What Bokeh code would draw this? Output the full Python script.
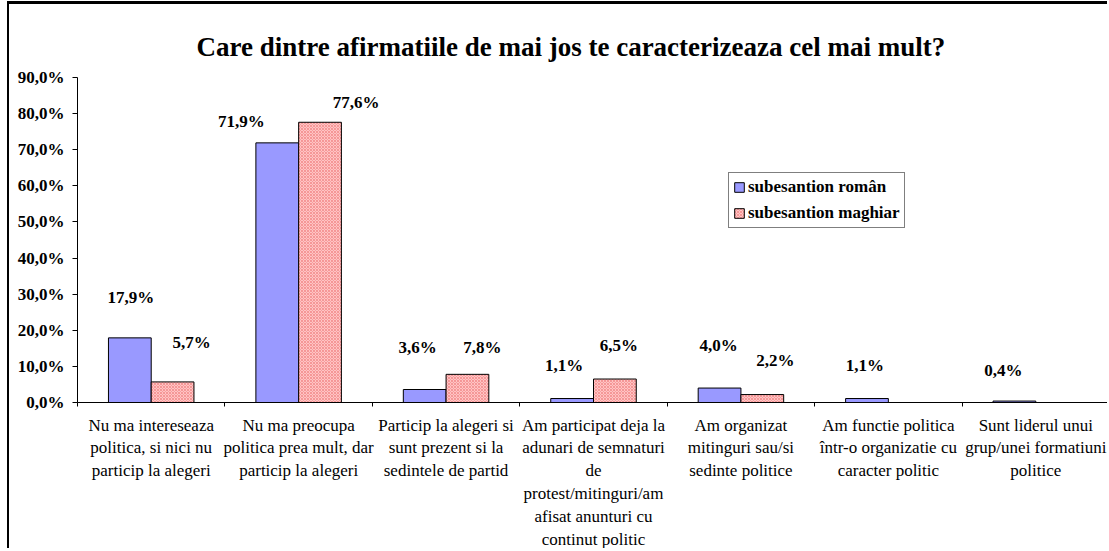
from bokeh.plotting import figure
from bokeh.models import Range1d, FixedTicker, ColumnDataSource, Legend, LegendItem
from bokeh.core.properties import value
from bokeh.embed import file_html
from bokeh.resources import INLINE

title_text = "Care dintre afirmatiile de mai jos te caracterizeaza cel mai mult?"
categories = [
    "Nu ma intereseaza\npolitica, si nici nu\nparticip la alegeri",
    "Nu ma preocupa\npolitica prea mult, dar\nparticip la alegeri",
    "Particip la alegeri si\nsunt prezent si la\nsedintele de partid",
    "Am participat deja la\nadunari de semnaturi\nde\nprotest/mitinguri/am\nafisat anunturi cu\ncontinut politic",
    "Am organizat\nmitinguri sau/si\nsedinte politice",
    "Am functie politica\nîntr-o organizatie cu\ncaracter politic",
    "Sunt liderul unui\ngrup/unei formatiuni\npolitice",
]
series_names = ["subesantion român", "subesantion maghiar"]
roman = [17.9, 71.9, 3.6, 1.1, 4.0, 1.1, 0.4]
maghiar = [5.7, 77.6, 7.8, 6.5, 2.2, None, None]
y_ticks = [0, 10, 20, 30, 40, 50, 60, 70, 80, 90]

# label placement (pixels, style only)
roman_dx = [1, -36, -7, -8, -1, -2, -11]
roman_dy = [-40, -21, -42, -33, -43, -33, -31]
maghiar_dx = [19, 36, 15, 4, 13, 0, 0]
maghiar_dy = [-39, -20, -27, -34, -34, 0, 0]

FONT = "Liberation Serif"
BW = 0.29
n = len(categories)

def fmt(v):
    return ("%.1f%%" % v).replace(".", ",")

p = figure(width=1100, height=547, output_backend="svg", toolbar_location=None,
           x_range=Range1d(0, n), y_range=Range1d(0, 90),
           min_border_left=68, min_border_right=0, min_border_top=73, min_border_bottom=146,
           background_fill_color="white", border_fill_color="white")
p.styles = {"border-top": "3px solid black", "border-left": "2px solid black",
            "margin-top": "1px", "margin-left": "7px"}
p.outline_line_color = None
p.xgrid.visible = False
p.ygrid.visible = False

p.title.text = title_text
p.title.text_font = FONT
p.title.text_font_size = "27px"
p.title.text_font_style = "bold"
p.title.text_color = "black"
p.title.align = "left"
p.title.offset = 119
p.title.standoff = 31

xr = [i + 0.5 - BW / 2 for i in range(n)]
xm = [i + 0.5 + BW / 2 for i in range(n)]
src_r = ColumnDataSource(dict(x=xr, top=roman, lab=[fmt(v) for v in roman], dx=roman_dx, dy=roman_dy))
mi = [i for i in range(n) if maghiar[i] is not None]
src_m = ColumnDataSource(dict(x=[xm[i] for i in mi], top=[maghiar[i] for i in mi],
                              lab=[fmt(maghiar[i]) for i in mi],
                              dx=[maghiar_dx[i] for i in mi], dy=[maghiar_dy[i] for i in mi]))

r1 = p.vbar(x="x", top="top", bottom=0, width=BW, source=src_r,
            fill_color="#9999FF", line_color="black", line_width=1)
r2 = p.vbar(x="x", top="top", bottom=0, width=BW, source=src_m,
            fill_color="#FFC4C4", line_color="black", line_width=1,
            hatch_pattern="diagonal_cross", hatch_color="#F28C8C", hatch_scale=3, hatch_weight=0.8)

for s in (src_r, src_m):
    p.text(x="x", y="top", text="lab", source=s, x_offset="dx", y_offset="dy",
           text_font=value(FONT), text_font_size="17px", text_font_style="bold",
           text_align="center", text_baseline="middle", text_color="black")

legend = Legend(items=[LegendItem(label=series_names[0], renderers=[r1]),
                       LegendItem(label=series_names[1], renderers=[r2])],
                location=(651, 174))
legend.label_text_font = FONT
legend.label_text_font_size = "17px"
legend.label_text_font_style = "bold"
legend.label_text_color = "black"
legend.glyph_width = 12
legend.glyph_height = 12
legend.label_standoff = 3
legend.label_height = 20
legend.spacing = 6
legend.padding = 4
legend.margin = 0
legend.border_line_color = "black"
legend.border_line_width = 1
legend.background_fill_color = "white"
legend.background_fill_alpha = 1
p.add_layout(legend, "center")

ya = p.yaxis[0]
ya.ticker = FixedTicker(ticks=y_ticks)
ya.major_label_overrides = {t: fmt(t) for t in y_ticks}
ya.major_label_text_font = FONT
ya.major_label_text_font_size = "17px"
ya.major_label_text_font_style = "bold"
ya.major_label_text_color = "black"
ya.major_tick_out = 5
ya.major_tick_in = 0
ya.minor_tick_out = 0
ya.minor_tick_in = 0
ya.axis_line_color = "black"
ya.major_tick_line_color = "black"
ya.major_label_standoff = 8

xa = p.xaxis[0]
centers = [i + 0.5 for i in range(n)]
xa.ticker = FixedTicker(ticks=centers, minor_ticks=list(range(n + 1)))
xa.major_label_overrides = {c: categories[i] for i, c in enumerate(centers)}
xa.major_label_text_font = FONT
xa.major_label_text_font_size = "17px"
xa.major_label_text_color = "black"
xa.major_label_text_line_height = 1.2
xa.major_tick_out = 0
xa.major_tick_in = 0
xa.minor_tick_out = 4
xa.minor_tick_in = 0
xa.minor_tick_line_color = "black"
xa.axis_line_color = "black"
xa.major_label_standoff = 9

open("out.html", "w").write(file_html(p, INLINE))
